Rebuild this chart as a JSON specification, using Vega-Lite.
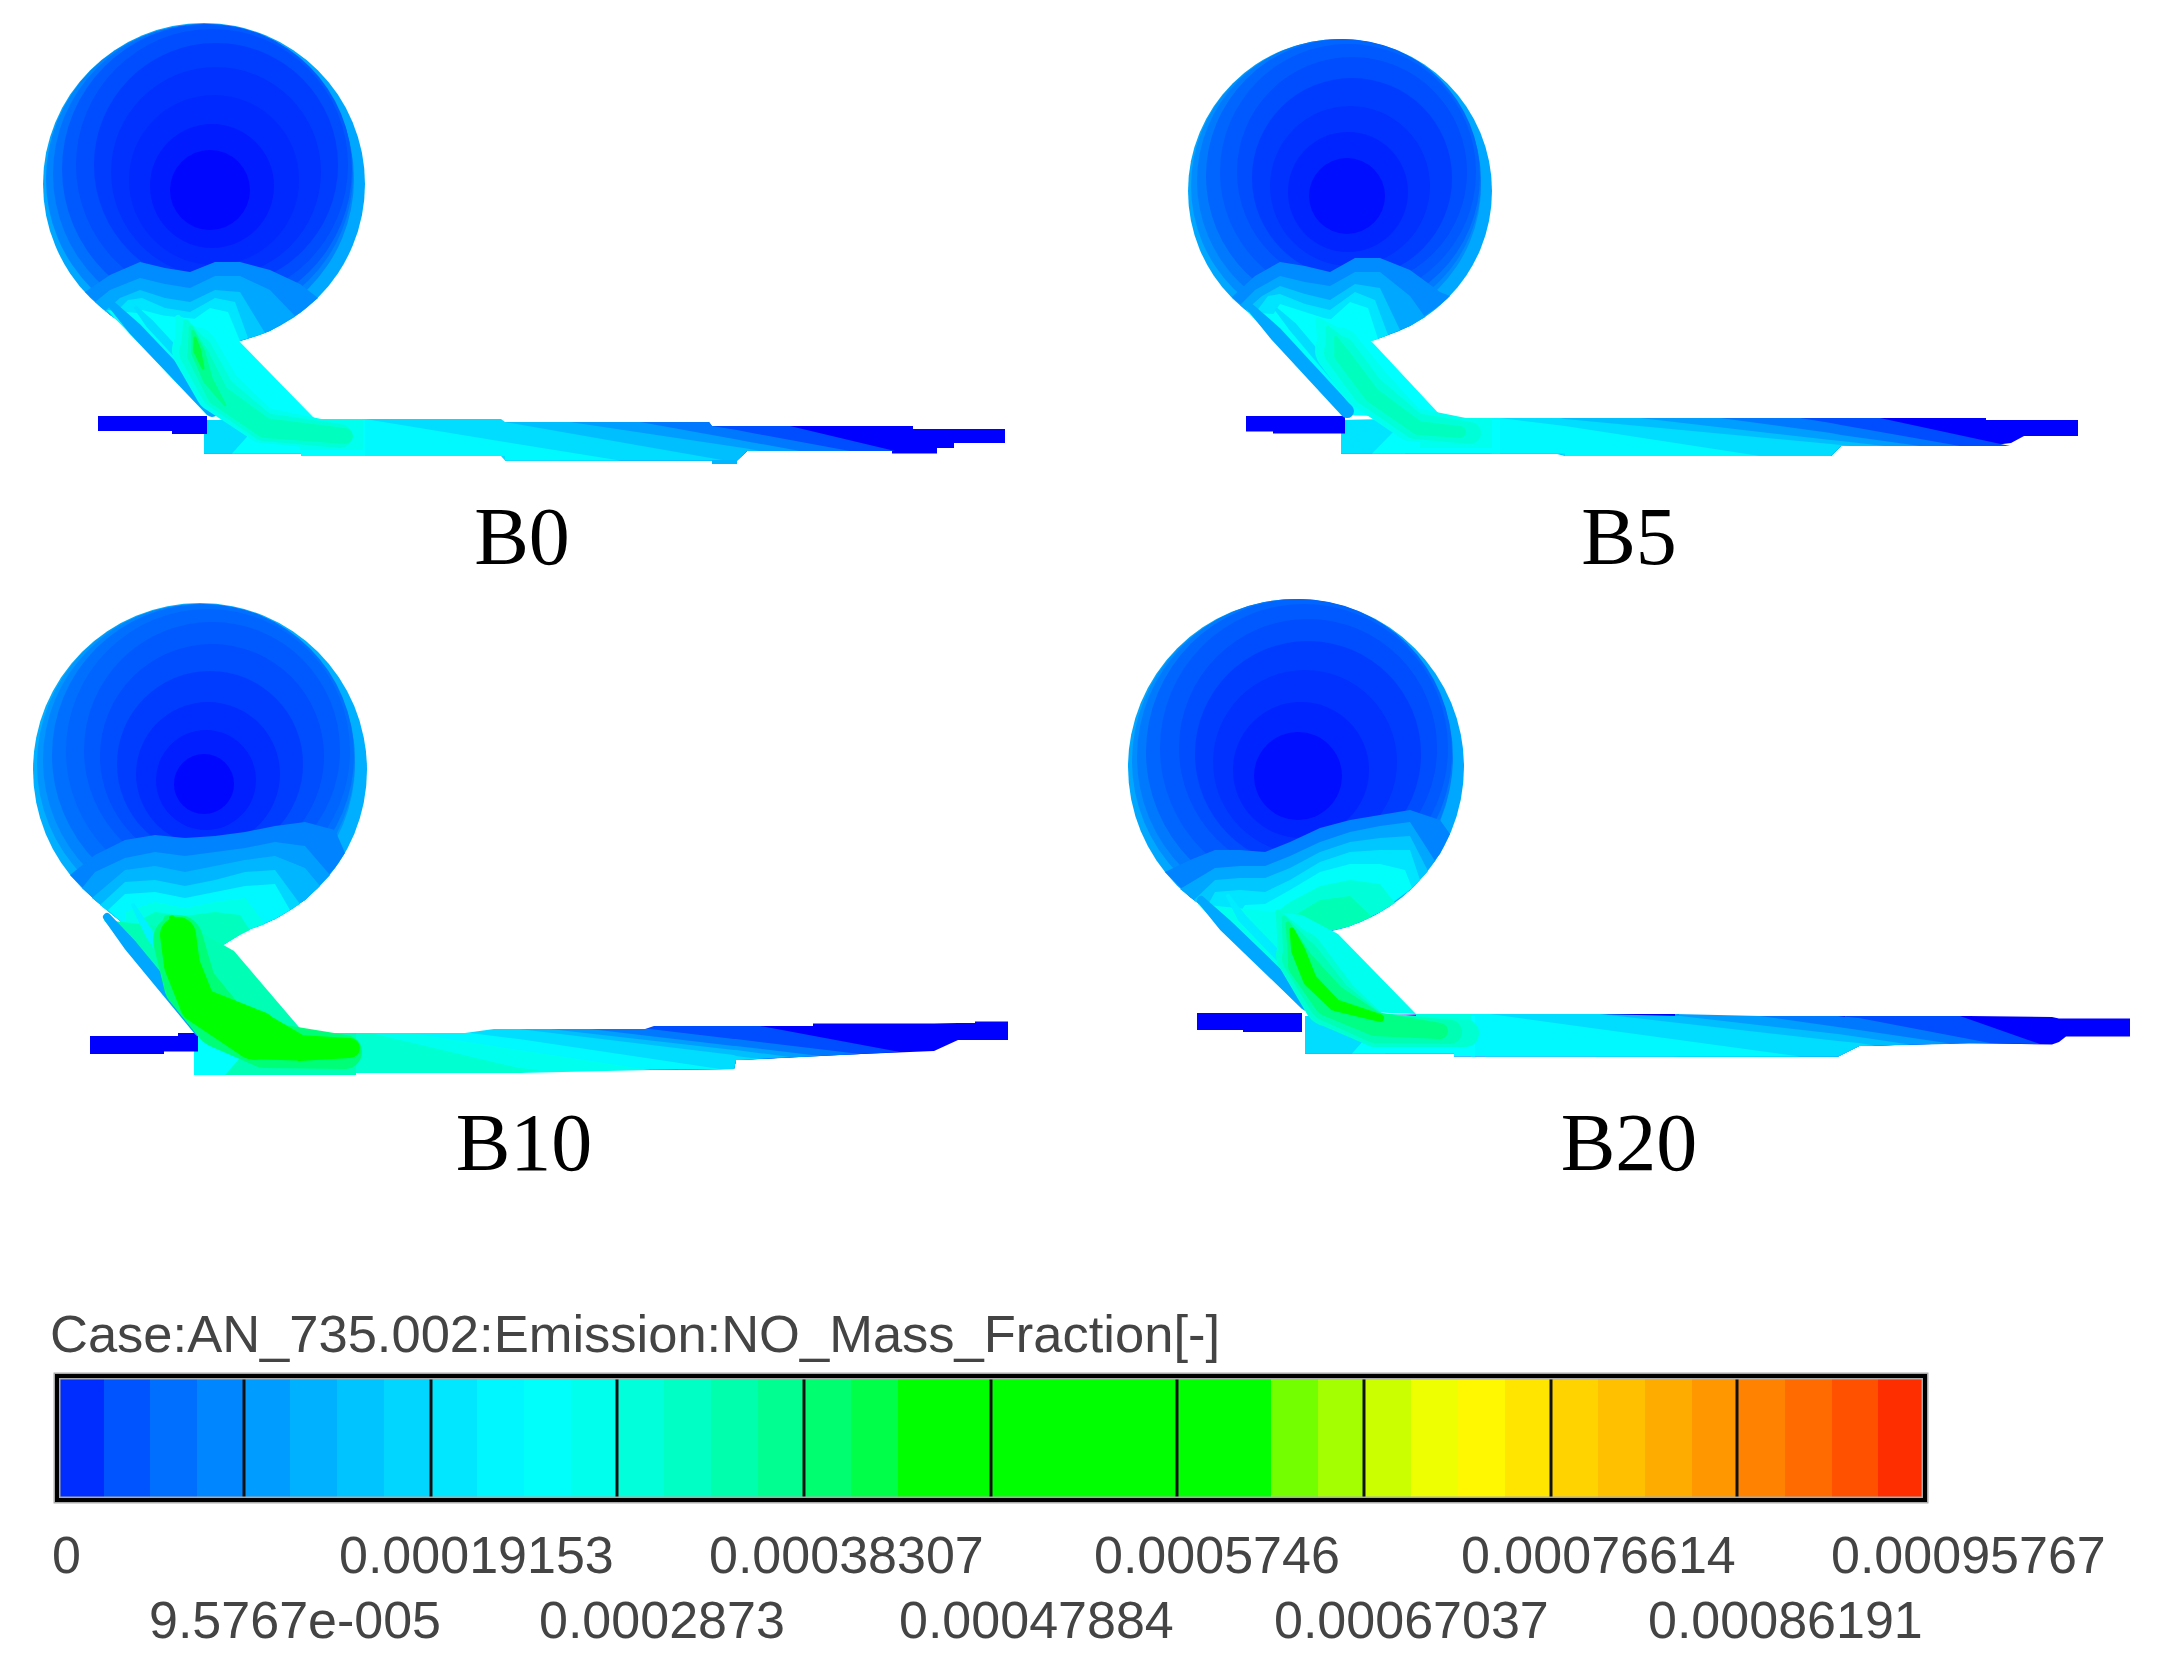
{"$schema":"https://vega.github.io/schema/vega-lite/v6.json","autosize":{"type":"fit","contains":"padding"},"padding":0,"width":2168,"height":1679,"background":"white","config":{"view":{"stroke":null}},
"datasets":{
"balls":[
{"x":204,"y":184,"d":322,"v":0.00012},{"x":200,"y":179,"d":308,"v":0.00008},{"x":203,"y":174,"d":300,"v":0.00006},{"x":207,"y":169,"d":290,"v":0.00004},{"x":212,"y":165,"d":272,"v":0.00003},{"x":216,"y":165,"d":244,"v":0.00002},{"x":216,"y":172,"d":210,"v":0.000014},{"x":214,"y":180,"d":170,"v":0.00001},{"x":212,"y":186,"d":124,"v":0.000005},{"x":210,"y":190,"d":80,"v":0.000001},
{"x":1340,"y":191,"d":304,"v":0.00012},{"x":1336,"y":186,"d":290,"v":0.00009},{"x":1339,"y":181,"d":284,"v":0.00007},{"x":1343,"y":176,"d":274,"v":0.00005},{"x":1348,"y":172,"d":256,"v":0.00004},{"x":1352,"y":172,"d":230,"v":0.00003},{"x":1352,"y":178,"d":200,"v":0.00002},{"x":1350,"y":186,"d":160,"v":0.000014},{"x":1348,"y":192,"d":120,"v":0.000008},{"x":1347,"y":196,"d":76,"v":0.000002},
{"x":200,"y":770,"d":334,"v":0.00013},{"x":196,"y":764,"d":318,"v":0.0001},{"x":199,"y":760,"d":312,"v":0.00008},{"x":203,"y":755,"d":302,"v":0.00006},{"x":208,"y":751,"d":284,"v":0.00005},{"x":212,"y":750,"d":256,"v":0.00004},{"x":212,"y":756,"d":224,"v":0.00003},{"x":210,"y":764,"d":186,"v":0.00002},{"x":208,"y":774,"d":144,"v":0.000012},{"x":206,"y":780,"d":100,"v":0.000006},{"x":204,"y":784,"d":60,"v":0.000001},
{"x":1296,"y":767,"d":336,"v":0.00012},{"x":1292,"y":761,"d":320,"v":0.00009},{"x":1295,"y":757,"d":316,"v":0.00007},{"x":1299,"y":752,"d":306,"v":0.00005},{"x":1304,"y":748,"d":288,"v":0.00004},{"x":1308,"y":748,"d":258,"v":0.00003},{"x":1308,"y":754,"d":226,"v":0.00002},{"x":1305,"y":762,"d":184,"v":0.000014},{"x":1301,"y":770,"d":136,"v":0.000008},{"x":1298,"y":776,"d":88,"v":0.000002}
],
"areas":[
{"id":"c0a","x":85,"y":292,"y2":292,"v":0.00009},{"id":"c0a","x":110,"y":275,"y2":315,"v":0.00009},{"id":"c0a","x":140,"y":262,"y2":335,"v":0.00009},{"id":"c0a","x":165,"y":268,"y2":345,"v":0.00009},{"id":"c0a","x":190,"y":272,"y2":345,"v":0.00009},{"id":"c0a","x":215,"y":262,"y2":345,"v":0.00009},{"id":"c0a","x":240,"y":262,"y2":341,"v":0.00009},{"id":"c0a","x":270,"y":270,"y2":331,"v":0.00009},{"id":"c0a","x":300,"y":284,"y2":313,"v":0.00009},{"id":"c0a","x":318,"y":298,"y2":298,"v":0.00009},
{"id":"c0b","x":95,"y":302,"y2":302,"v":0.00012},{"id":"c0b","x":110,"y":290,"y2":315,"v":0.00012},{"id":"c0b","x":140,"y":278,"y2":335,"v":0.00012},{"id":"c0b","x":165,"y":284,"y2":345,"v":0.00012},{"id":"c0b","x":190,"y":288,"y2":345,"v":0.00012},{"id":"c0b","x":215,"y":276,"y2":345,"v":0.00012},{"id":"c0b","x":240,"y":276,"y2":341,"v":0.00012},{"id":"c0b","x":270,"y":290,"y2":331,"v":0.00012},{"id":"c0b","x":295,"y":316,"y2":316,"v":0.00012},
{"id":"c0c","x":105,"y":311,"y2":311,"v":0.00016},{"id":"c0c","x":120,"y":298,"y2":322,"v":0.00016},{"id":"c0c","x":140,"y":290,"y2":335,"v":0.00016},{"id":"c0c","x":165,"y":298,"y2":345,"v":0.00016},{"id":"c0c","x":190,"y":302,"y2":345,"v":0.00016},{"id":"c0c","x":215,"y":290,"y2":345,"v":0.00016},{"id":"c0c","x":240,"y":292,"y2":341,"v":0.00016},{"id":"c0c","x":265,"y":333,"y2":333,"v":0.00016},
{"id":"c0d","x":112,"y":316,"y2":316,"v":0.0002},{"id":"c0d","x":128,"y":300,"y2":330,"v":0.0002},{"id":"c0d","x":142,"y":298,"y2":336,"v":0.0002},{"id":"c0d","x":165,"y":308,"y2":345,"v":0.0002},{"id":"c0d","x":190,"y":312,"y2":345,"v":0.0002},{"id":"c0d","x":215,"y":298,"y2":345,"v":0.0002},{"id":"c0d","x":235,"y":302,"y2":342,"v":0.0002},{"id":"c0d","x":248,"y":338,"y2":338,"v":0.0002},
{"id":"c0e","x":130,"y":330,"y2":330,"v":0.00024},{"id":"c0e","x":142,"y":310,"y2":336,"v":0.00024},{"id":"c0e","x":165,"y":316,"y2":345,"v":0.00024},{"id":"c0e","x":190,"y":322,"y2":345,"v":0.00024},{"id":"c0e","x":210,"y":308,"y2":345,"v":0.00024},{"id":"c0e","x":228,"y":312,"y2":345,"v":0.00024},{"id":"c0e","x":240,"y":341,"y2":341,"v":0.00024},

{"id":"c5a","x":1232,"y":297,"y2":297,"v":0.00009},{"id":"c5a","x":1255,"y":276,"y2":317,"v":0.00009},{"id":"c5a","x":1280,"y":262,"y2":335,"v":0.00009},{"id":"c5a","x":1305,"y":266,"y2":345,"v":0.00009},{"id":"c5a","x":1330,"y":272,"y2":345,"v":0.00009},{"id":"c5a","x":1355,"y":258,"y2":345,"v":0.00009},{"id":"c5a","x":1380,"y":258,"y2":338,"v":0.00009},{"id":"c5a","x":1410,"y":270,"y2":326,"v":0.00009},{"id":"c5a","x":1440,"y":292,"y2":305,"v":0.00009},{"id":"c5a","x":1450,"y":296,"y2":296,"v":0.00009},
{"id":"c5b","x":1240,"y":305,"y2":305,"v":0.00012},{"id":"c5b","x":1255,"y":290,"y2":317,"v":0.00012},{"id":"c5b","x":1280,"y":276,"y2":335,"v":0.00012},{"id":"c5b","x":1305,"y":282,"y2":345,"v":0.00012},{"id":"c5b","x":1330,"y":286,"y2":345,"v":0.00012},{"id":"c5b","x":1355,"y":272,"y2":345,"v":0.00012},{"id":"c5b","x":1380,"y":272,"y2":338,"v":0.00012},{"id":"c5b","x":1410,"y":296,"y2":326,"v":0.00012},{"id":"c5b","x":1425,"y":317,"y2":317,"v":0.00012},
{"id":"c5c","x":1246,"y":310,"y2":310,"v":0.00016},{"id":"c5c","x":1262,"y":296,"y2":325,"v":0.00016},{"id":"c5c","x":1280,"y":286,"y2":335,"v":0.00016},{"id":"c5c","x":1305,"y":294,"y2":345,"v":0.00016},{"id":"c5c","x":1330,"y":300,"y2":345,"v":0.00016},{"id":"c5c","x":1355,"y":284,"y2":345,"v":0.00016},{"id":"c5c","x":1380,"y":288,"y2":338,"v":0.00016},{"id":"c5c","x":1400,"y":330,"y2":330,"v":0.00016},
{"id":"c5d","x":1253,"y":316,"y2":316,"v":0.0002},{"id":"c5d","x":1268,"y":296,"y2":330,"v":0.0002},{"id":"c5d","x":1280,"y":294,"y2":335,"v":0.0002},{"id":"c5d","x":1305,"y":304,"y2":345,"v":0.0002},{"id":"c5d","x":1330,"y":310,"y2":345,"v":0.0002},{"id":"c5d","x":1355,"y":292,"y2":345,"v":0.0002},{"id":"c5d","x":1375,"y":300,"y2":340,"v":0.0002},{"id":"c5d","x":1388,"y":335,"y2":335,"v":0.0002},
{"id":"c5e","x":1265,"y":327,"y2":327,"v":0.00024},{"id":"c5e","x":1280,"y":304,"y2":335,"v":0.00024},{"id":"c5e","x":1305,"y":312,"y2":345,"v":0.00024},{"id":"c5e","x":1330,"y":320,"y2":345,"v":0.00024},{"id":"c5e","x":1350,"y":302,"y2":345,"v":0.00024},{"id":"c5e","x":1368,"y":308,"y2":342,"v":0.00024},{"id":"c5e","x":1378,"y":339,"y2":339,"v":0.00024},

{"id":"c1a","x":70,"y":875,"y2":875,"v":0.00008},{"id":"c1a","x":95,"y":855,"y2":900,"v":0.00008},{"id":"c1a","x":125,"y":840,"y2":925,"v":0.00008},{"id":"c1a","x":155,"y":835,"y2":950,"v":0.00008},{"id":"c1a","x":185,"y":838,"y2":950,"v":0.00008},{"id":"c1a","x":215,"y":836,"y2":950,"v":0.00008},{"id":"c1a","x":245,"y":832,"y2":931,"v":0.00008},{"id":"c1a","x":275,"y":826,"y2":919,"v":0.00008},{"id":"c1a","x":305,"y":822,"y2":900,"v":0.00008},{"id":"c1a","x":335,"y":830,"y2":868,"v":0.00008},{"id":"c1a","x":345,"y":853,"y2":853,"v":0.00008},
{"id":"c1b","x":82,"y":888,"y2":888,"v":0.00011},{"id":"c1b","x":95,"y":872,"y2":900,"v":0.00011},{"id":"c1b","x":125,"y":858,"y2":925,"v":0.00011},{"id":"c1b","x":155,"y":852,"y2":950,"v":0.00011},{"id":"c1b","x":185,"y":856,"y2":950,"v":0.00011},{"id":"c1b","x":215,"y":852,"y2":950,"v":0.00011},{"id":"c1b","x":245,"y":848,"y2":931,"v":0.00011},{"id":"c1b","x":275,"y":842,"y2":919,"v":0.00011},{"id":"c1b","x":305,"y":846,"y2":900,"v":0.00011},{"id":"c1b","x":330,"y":875,"y2":875,"v":0.00011},
{"id":"c1c","x":92,"y":898,"y2":898,"v":0.00014},{"id":"c1c","x":125,"y":870,"y2":925,"v":0.00014},{"id":"c1c","x":155,"y":866,"y2":950,"v":0.00014},{"id":"c1c","x":185,"y":872,"y2":950,"v":0.00014},{"id":"c1c","x":215,"y":866,"y2":950,"v":0.00014},{"id":"c1c","x":245,"y":860,"y2":931,"v":0.00014},{"id":"c1c","x":275,"y":856,"y2":919,"v":0.00014},{"id":"c1c","x":305,"y":868,"y2":900,"v":0.00014},{"id":"c1c","x":320,"y":886,"y2":886,"v":0.00014},
{"id":"c1d","x":100,"y":905,"y2":905,"v":0.00018},{"id":"c1d","x":125,"y":882,"y2":925,"v":0.00018},{"id":"c1d","x":155,"y":880,"y2":950,"v":0.00018},{"id":"c1d","x":185,"y":886,"y2":950,"v":0.00018},{"id":"c1d","x":215,"y":880,"y2":950,"v":0.00018},{"id":"c1d","x":245,"y":872,"y2":931,"v":0.00018},{"id":"c1d","x":275,"y":870,"y2":919,"v":0.00018},{"id":"c1d","x":300,"y":904,"y2":904,"v":0.00018},
{"id":"c1e","x":108,"y":910,"y2":910,"v":0.00023},{"id":"c1e","x":125,"y":894,"y2":925,"v":0.00023},{"id":"c1e","x":155,"y":892,"y2":950,"v":0.00023},{"id":"c1e","x":185,"y":898,"y2":950,"v":0.00023},{"id":"c1e","x":215,"y":892,"y2":950,"v":0.00023},{"id":"c1e","x":245,"y":886,"y2":931,"v":0.00023},{"id":"c1e","x":275,"y":884,"y2":919,"v":0.00023},{"id":"c1e","x":290,"y":910,"y2":910,"v":0.00023},
{"id":"c1f","x":125,"y":912,"y2":925,"v":0.00028},{"id":"c1f","x":155,"y":902,"y2":950,"v":0.00028},{"id":"c1f","x":185,"y":908,"y2":950,"v":0.00028},{"id":"c1f","x":215,"y":902,"y2":950,"v":0.00028},{"id":"c1f","x":245,"y":898,"y2":931,"v":0.00028},{"id":"c1f","x":265,"y":924,"y2":924,"v":0.00028},
{"id":"c1g","x":140,"y":920,"y2":940,"v":0.00033},{"id":"c1g","x":155,"y":912,"y2":950,"v":0.00033},{"id":"c1g","x":185,"y":916,"y2":950,"v":0.00033},{"id":"c1g","x":215,"y":912,"y2":950,"v":0.00033},{"id":"c1g","x":240,"y":915,"y2":935,"v":0.00033},{"id":"c1g","x":250,"y":930,"y2":930,"v":0.00033},

{"id":"c2a","x":1165,"y":872,"y2":872,"v":0.00008},{"id":"c2a","x":1190,"y":860,"y2":897,"v":0.00008},{"id":"c2a","x":1215,"y":850,"y2":916,"v":0.00008},{"id":"c2a","x":1240,"y":850,"y2":930,"v":0.00008},{"id":"c2a","x":1265,"y":852,"y2":945,"v":0.00008},{"id":"c2a","x":1290,"y":842,"y2":945,"v":0.00008},{"id":"c2a","x":1320,"y":828,"y2":933,"v":0.00008},{"id":"c2a","x":1350,"y":820,"y2":926,"v":0.00008},{"id":"c2a","x":1380,"y":815,"y2":912,"v":0.00008},{"id":"c2a","x":1410,"y":810,"y2":890,"v":0.00008},{"id":"c2a","x":1440,"y":820,"y2":854,"v":0.00008},{"id":"c2a","x":1450,"y":834,"y2":834,"v":0.00008},
{"id":"c2b","x":1180,"y":889,"y2":889,"v":0.00012},{"id":"c2b","x":1215,"y":868,"y2":916,"v":0.00012},{"id":"c2b","x":1240,"y":866,"y2":930,"v":0.00012},{"id":"c2b","x":1265,"y":866,"y2":945,"v":0.00012},{"id":"c2b","x":1290,"y":856,"y2":945,"v":0.00012},{"id":"c2b","x":1320,"y":842,"y2":933,"v":0.00012},{"id":"c2b","x":1350,"y":832,"y2":926,"v":0.00012},{"id":"c2b","x":1380,"y":826,"y2":912,"v":0.00012},{"id":"c2b","x":1410,"y":822,"y2":890,"v":0.00012},{"id":"c2b","x":1435,"y":861,"y2":861,"v":0.00012},
{"id":"c2c","x":1194,"y":900,"y2":900,"v":0.00016},{"id":"c2c","x":1215,"y":880,"y2":916,"v":0.00016},{"id":"c2c","x":1240,"y":878,"y2":930,"v":0.00016},{"id":"c2c","x":1265,"y":878,"y2":945,"v":0.00016},{"id":"c2c","x":1290,"y":868,"y2":945,"v":0.00016},{"id":"c2c","x":1320,"y":852,"y2":933,"v":0.00016},{"id":"c2c","x":1350,"y":842,"y2":926,"v":0.00016},{"id":"c2c","x":1380,"y":838,"y2":912,"v":0.00016},{"id":"c2c","x":1410,"y":836,"y2":890,"v":0.00016},{"id":"c2c","x":1428,"y":871,"y2":871,"v":0.00016},
{"id":"c2d","x":1205,"y":910,"y2":910,"v":0.0002},{"id":"c2d","x":1215,"y":892,"y2":916,"v":0.0002},{"id":"c2d","x":1240,"y":890,"y2":930,"v":0.0002},{"id":"c2d","x":1265,"y":892,"y2":945,"v":0.0002},{"id":"c2d","x":1290,"y":880,"y2":945,"v":0.0002},{"id":"c2d","x":1320,"y":862,"y2":933,"v":0.0002},{"id":"c2d","x":1350,"y":852,"y2":926,"v":0.0002},{"id":"c2d","x":1380,"y":850,"y2":912,"v":0.0002},{"id":"c2d","x":1410,"y":850,"y2":890,"v":0.0002},{"id":"c2d","x":1420,"y":880,"y2":880,"v":0.0002},
{"id":"c2e","x":1232,"y":925,"y2":925,"v":0.00025},{"id":"c2e","x":1245,"y":905,"y2":932,"v":0.00025},{"id":"c2e","x":1265,"y":904,"y2":945,"v":0.00025},{"id":"c2e","x":1290,"y":890,"y2":945,"v":0.00025},{"id":"c2e","x":1320,"y":872,"y2":933,"v":0.00025},{"id":"c2e","x":1350,"y":864,"y2":926,"v":0.00025},{"id":"c2e","x":1380,"y":864,"y2":912,"v":0.00025},{"id":"c2e","x":1405,"y":870,"y2":893,"v":0.00025},{"id":"c2e","x":1412,"y":888,"y2":888,"v":0.00025},
{"id":"c2f","x":1265,"y":920,"y2":945,"v":0.0003},{"id":"c2f","x":1290,"y":902,"y2":945,"v":0.0003},{"id":"c2f","x":1320,"y":886,"y2":933,"v":0.0003},{"id":"c2f","x":1350,"y":880,"y2":926,"v":0.0003},{"id":"c2f","x":1380,"y":884,"y2":912,"v":0.0003},{"id":"c2f","x":1395,"y":903,"y2":903,"v":0.0003},
{"id":"c2g","x":1290,"y":918,"y2":945,"v":0.00034},{"id":"c2g","x":1320,"y":900,"y2":933,"v":0.00034},{"id":"c2g","x":1350,"y":896,"y2":926,"v":0.00034},{"id":"c2g","x":1372,"y":917,"y2":917,"v":0.00034},

{"id":"b0s","x":204,"y":420,"y2":453.5,"v":0},{"id":"b0s","x":301,"y":420,"y2":453.5,"v":0},{"id":"b0s","x":301,"y":420,"y2":456,"v":0},{"id":"b0s","x":315,"y":419,"y2":456,"v":0},{"id":"b0s","x":501,"y":419,"y2":456,"v":0},{"id":"b0s","x":501,"y":422,"y2":456,"v":0},{"id":"b0s","x":505,"y":422,"y2":456,"v":0},{"id":"b0s","x":505,"y":422,"y2":460.5,"v":0},{"id":"b0s","x":709,"y":422,"y2":460.5,"v":0},{"id":"b0s","x":709,"y":426,"y2":460.5,"v":0},{"id":"b0s","x":737,"y":426,"y2":460.5,"v":0},{"id":"b0s","x":747,"y":426,"y2":451,"v":0},{"id":"b0s","x":892,"y":426,"y2":451,"v":0},{"id":"b0s","x":892,"y":426,"y2":453.5,"v":0},{"id":"b0s","x":913,"y":426,"y2":453.5,"v":0},{"id":"b0s","x":913,"y":429,"y2":453.5,"v":0},{"id":"b0s","x":937,"y":429,"y2":453.5,"v":0},{"id":"b0s","x":937,"y":429,"y2":448,"v":0},{"id":"b0s","x":954,"y":429,"y2":448,"v":0},{"id":"b0s","x":954,"y":429,"y2":443,"v":0},{"id":"b0s","x":1005,"y":429,"y2":443,"v":0},
{"id":"b0a","x":680,"y":422,"y2":460.5,"v":0.00003},{"id":"b0a","x":709,"y":422,"y2":460.5,"v":0.00003},{"id":"b0a","x":712,"y":426,"y2":460.5,"v":0.00003},{"id":"b0a","x":737,"y":426,"y2":460.5,"v":0.00003},{"id":"b0a","x":747,"y":426,"y2":451,"v":0.00003},{"id":"b0a","x":790,"y":426,"y2":451,"v":0.00003},{"id":"b0a","x":895,"y":451,"y2":451,"v":0.00003},
{"id":"b0b","x":620,"y":422,"y2":460.5,"v":0.00007},{"id":"b0b","x":709,"y":422,"y2":460.5,"v":0.00007},{"id":"b0b","x":712,"y":426,"y2":460.5,"v":0.00007},{"id":"b0b","x":737,"y":430,"y2":460.5,"v":0.00007},{"id":"b0b","x":747,"y":432,"y2":451,"v":0.00007},{"id":"b0b","x":850,"y":451,"y2":451,"v":0.00007},
{"id":"b0c","x":560,"y":422,"y2":460.5,"v":0.00011},{"id":"b0c","x":640,"y":422,"y2":460.5,"v":0.00011},{"id":"b0c","x":737,"y":439.6,"y2":460.5,"v":0.00011},{"id":"b0c","x":747,"y":441.4,"y2":451,"v":0.00011},{"id":"b0c","x":800,"y":451,"y2":451,"v":0.00011},
{"id":"b0d","x":505,"y":422,"y2":460.5,"v":0.00015},{"id":"b0d","x":570,"y":422,"y2":460.5,"v":0.00015},{"id":"b0d","x":737,"y":447,"y2":460.5,"v":0.00015},{"id":"b0d","x":747,"y":448.6,"y2":451,"v":0.00015},{"id":"b0d","x":760,"y":451,"y2":451,"v":0.00015},
{"id":"b0e","x":360,"y":419,"y2":456,"v":0.00019},{"id":"b0e","x":501,"y":419,"y2":456,"v":0.00019},{"id":"b0e","x":505,"y":422,"y2":460.5,"v":0.00019},{"id":"b0e","x":725,"y":460.5,"y2":460.5,"v":0.00019},
{"id":"b0f","x":330,"y":419,"y2":456,"v":0.00023},{"id":"b0f","x":365,"y":419,"y2":456,"v":0.00023},{"id":"b0f","x":505,"y":442,"y2":456,"v":0.00023},{"id":"b0f","x":505,"y":442,"y2":460.5,"v":0.00023},{"id":"b0f","x":620,"y":460.5,"y2":460.5,"v":0.00023},
{"id":"b0p","x":204,"y":420,"y2":453.5,"v":0.00019},{"id":"b0p","x":301,"y":420,"y2":453.5,"v":0.00019},{"id":"b0p","x":301,"y":420,"y2":456,"v":0.00019},{"id":"b0p","x":320,"y":420,"y2":456,"v":0.00019},
{"id":"b0q","x":232,"y":453.5,"y2":453.5,"v":0.00024},{"id":"b0q","x":262,"y":420,"y2":453.5,"v":0.00024},{"id":"b0q","x":301,"y":420,"y2":453.5,"v":0.00024},{"id":"b0q","x":301,"y":420,"y2":456,"v":0.00024},{"id":"b0q","x":365,"y":420,"y2":456,"v":0.00024},
{"id":"b0m","x":300,"y":419,"y2":450,"v":0.00027},{"id":"b0m","x":363,"y":419,"y2":450,"v":0.00027},
{"id":"b0u","x":712,"y":460,"y2":464,"v":0.00014},{"id":"b0u","x":737,"y":460,"y2":464,"v":0.00014},
{"id":"b0i","x":98,"y":416,"y2":431,"v":0},{"id":"b0i","x":172,"y":416,"y2":431,"v":0},{"id":"b0i","x":172,"y":416,"y2":434,"v":0},{"id":"b0i","x":207,"y":416,"y2":434,"v":0},
{"id":"b0n","x":107,"y":310,"y2":310,"v":0.00024},{"id":"b0n","x":207,"y":320,"y2":415,"v":0.00024},{"id":"b0n","x":239,"y":341,"y2":416,"v":0.00024},{"id":"b0n","x":315,"y":419,"y2":419,"v":0.00024},

{"id":"b5s","x":1341,"y":420,"y2":453.5,"v":0},{"id":"b5s","x":1565,"y":418,"y2":453.5,"v":0},{"id":"b5s","x":1565,"y":418,"y2":456,"v":0},{"id":"b5s","x":1831,"y":418,"y2":456,"v":0},{"id":"b5s","x":1841,"y":418,"y2":446,"v":0},{"id":"b5s","x":1986,"y":418,"y2":446,"v":0},{"id":"b5s","x":1986,"y":420,"y2":446,"v":0},{"id":"b5s","x":2011,"y":420,"y2":443,"v":0},{"id":"b5s","x":2024,"y":420,"y2":436,"v":0},{"id":"b5s","x":2078,"y":420,"y2":436,"v":0},
{"id":"b5a","x":1795,"y":418,"y2":456,"v":0.00003},{"id":"b5a","x":1831,"y":418,"y2":456,"v":0.00003},{"id":"b5a","x":1841,"y":418,"y2":446,"v":0.00003},{"id":"b5a","x":1880,"y":418,"y2":446,"v":0.00003},{"id":"b5a","x":2010,"y":446,"y2":446,"v":0.00003},
{"id":"b5b","x":1710,"y":418,"y2":456,"v":0.00007},{"id":"b5b","x":1800,"y":418,"y2":456,"v":0.00007},{"id":"b5b","x":1831,"y":423,"y2":456,"v":0.00007},{"id":"b5b","x":1841,"y":425,"y2":446,"v":0.00007},{"id":"b5b","x":1960,"y":446,"y2":446,"v":0.00007},
{"id":"b5c","x":1630,"y":418,"y2":456,"v":0.00011},{"id":"b5c","x":1720,"y":418,"y2":456,"v":0.00011},{"id":"b5c","x":1831,"y":433,"y2":456,"v":0.00011},{"id":"b5c","x":1841,"y":435,"y2":446,"v":0.00011},{"id":"b5c","x":1920,"y":446,"y2":446,"v":0.00011},
{"id":"b5d","x":1555,"y":418,"y2":453.5,"v":0.00015},{"id":"b5d","x":1565,"y":418,"y2":456,"v":0.00015},{"id":"b5d","x":1640,"y":418,"y2":456,"v":0.00015},{"id":"b5d","x":1831,"y":440,"y2":456,"v":0.00015},{"id":"b5d","x":1841,"y":441,"y2":446,"v":0.00015},{"id":"b5d","x":1885,"y":446,"y2":446,"v":0.00015},
{"id":"b5e","x":1490,"y":418,"y2":453.5,"v":0.00019},{"id":"b5e","x":1560,"y":418,"y2":453.5,"v":0.00019},{"id":"b5e","x":1565,"y":419,"y2":456,"v":0.00019},{"id":"b5e","x":1831,"y":444,"y2":456,"v":0.00019},{"id":"b5e","x":1841,"y":445,"y2":446,"v":0.00019},{"id":"b5e","x":1850,"y":446,"y2":446,"v":0.00019},
{"id":"b5f","x":1492,"y":418,"y2":453.5,"v":0.00023},{"id":"b5f","x":1500,"y":418,"y2":453.5,"v":0.00023},{"id":"b5f","x":1565,"y":426,"y2":453.5,"v":0.00023},{"id":"b5f","x":1565,"y":426,"y2":456,"v":0.00023},{"id":"b5f","x":1760,"y":456,"y2":456,"v":0.00023},
{"id":"b5p","x":1341,"y":420,"y2":453.5,"v":0.0002},{"id":"b5p","x":1405,"y":420,"y2":453.5,"v":0.0002},
{"id":"b5q","x":1372,"y":453.5,"y2":453.5,"v":0.00024},{"id":"b5q","x":1405,"y":420,"y2":453.5,"v":0.00024},{"id":"b5q","x":1500,"y":420,"y2":453.5,"v":0.00024},
{"id":"b5m","x":1420,"y":418,"y2":448,"v":0.00027},{"id":"b5m","x":1492,"y":418,"y2":448,"v":0.00027},
{"id":"b5i","x":1246,"y":416,"y2":431.5,"v":0},{"id":"b5i","x":1273,"y":416,"y2":431.5,"v":0},{"id":"b5i","x":1273,"y":416,"y2":433.5,"v":0},{"id":"b5i","x":1345,"y":416,"y2":433.5,"v":0},
{"id":"b5n","x":1248,"y":312,"y2":312,"v":0.00024},{"id":"b5n","x":1343,"y":320,"y2":415,"v":0.00024},{"id":"b5n","x":1373,"y":343,"y2":416,"v":0.00024},{"id":"b5n","x":1442,"y":417,"y2":417,"v":0.00024},

{"id":"b1s","x":194,"y":1035,"y2":1075,"v":0},{"id":"b1s","x":304,"y":1033,"y2":1075,"v":0},{"id":"b1s","x":356,"y":1033,"y2":1075,"v":0},{"id":"b1s","x":356,"y":1033,"y2":1073,"v":0},{"id":"b1s","x":494,"y":1033,"y2":1073,"v":0},{"id":"b1s","x":494,"y":1029,"y2":1073,"v":0},{"id":"b1s","x":519,"y":1029,"y2":1073,"v":0},{"id":"b1s","x":519,"y":1029,"y2":1070,"v":0},{"id":"b1s","x":654,"y":1029,"y2":1070,"v":0},{"id":"b1s","x":654,"y":1026,"y2":1070,"v":0},{"id":"b1s","x":678,"y":1026,"y2":1070,"v":0},{"id":"b1s","x":678,"y":1026,"y2":1069,"v":0},{"id":"b1s","x":734,"y":1026,"y2":1069,"v":0},{"id":"b1s","x":736,"y":1026,"y2":1060,"v":0},{"id":"b1s","x":813,"y":1026,"y2":1056,"v":0},{"id":"b1s","x":813,"y":1023.5,"y2":1056,"v":0},{"id":"b1s","x":934,"y":1023.5,"y2":1051,"v":0},{"id":"b1s","x":958,"y":1023,"y2":1040,"v":0},{"id":"b1s","x":975,"y":1023,"y2":1040,"v":0},{"id":"b1s","x":975,"y":1021.5,"y2":1040,"v":0},{"id":"b1s","x":1008,"y":1021.5,"y2":1040,"v":0},
{"id":"b1a","x":645,"y":1029,"y2":1070,"v":0.00003},{"id":"b1a","x":654,"y":1026,"y2":1070,"v":0.00003},{"id":"b1a","x":734,"y":1026,"y2":1069,"v":0.00003},{"id":"b1a","x":736,"y":1026,"y2":1060,"v":0.00003},{"id":"b1a","x":760,"y":1026,"y2":1059,"v":0.00003},{"id":"b1a","x":900,"y":1052,"y2":1052,"v":0.00003},
{"id":"b1b","x":585,"y":1029,"y2":1070,"v":0.00007},{"id":"b1b","x":650,"y":1029,"y2":1070,"v":0.00007},{"id":"b1b","x":734,"y":1039,"y2":1069,"v":0.00007},{"id":"b1b","x":736,"y":1039,"y2":1060,"v":0.00007},{"id":"b1b","x":860,"y":1054,"y2":1054,"v":0.00007},
{"id":"b1c","x":545,"y":1029,"y2":1070,"v":0.00011},{"id":"b1c","x":590,"y":1029,"y2":1070,"v":0.00011},{"id":"b1c","x":734,"y":1046,"y2":1069,"v":0.00011},{"id":"b1c","x":736,"y":1046,"y2":1060,"v":0.00011},{"id":"b1c","x":820,"y":1056,"y2":1056,"v":0.00011},
{"id":"b1d","x":510,"y":1029,"y2":1073,"v":0.00015},{"id":"b1d","x":519,"y":1029,"y2":1070,"v":0.00015},{"id":"b1d","x":550,"y":1029,"y2":1070,"v":0.00015},{"id":"b1d","x":734,"y":1050,"y2":1069,"v":0.00015},{"id":"b1d","x":736,"y":1050,"y2":1060,"v":0.00015},{"id":"b1d","x":790,"y":1057,"y2":1057,"v":0.00015},
{"id":"b1e","x":465,"y":1033,"y2":1073,"v":0.00019},{"id":"b1e","x":494,"y":1029,"y2":1073,"v":0.00019},{"id":"b1e","x":519,"y":1029,"y2":1070,"v":0.00019},{"id":"b1e","x":734,"y":1055,"y2":1069,"v":0.00019},{"id":"b1e","x":736,"y":1056,"y2":1060,"v":0.00019},{"id":"b1e","x":760,"y":1059,"y2":1059,"v":0.00019},
{"id":"b1f","x":400,"y":1033,"y2":1073,"v":0.00023},{"id":"b1f","x":470,"y":1033,"y2":1073,"v":0.00023},{"id":"b1f","x":519,"y":1039,"y2":1070,"v":0.00023},{"id":"b1f","x":720,"y":1069,"y2":1069,"v":0.00023},
{"id":"b1g","x":365,"y":1033,"y2":1073,"v":0.00027},{"id":"b1g","x":410,"y":1033,"y2":1073,"v":0.00027},{"id":"b1g","x":519,"y":1050,"y2":1073,"v":0.00027},{"id":"b1g","x":650,"y":1070,"y2":1070,"v":0.00027},
{"id":"b1h","x":356,"y":1033,"y2":1073,"v":0.00031},{"id":"b1h","x":370,"y":1033,"y2":1073,"v":0.00031},{"id":"b1h","x":519,"y":1068,"y2":1073,"v":0.00031},{"id":"b1h","x":540,"y":1070,"y2":1070,"v":0.00031},
{"id":"b1p","x":194,"y":1035,"y2":1075,"v":0.00024},{"id":"b1p","x":262,"y":1035,"y2":1075,"v":0.00024},
{"id":"b1m","x":225,"y":1075,"y2":1075,"v":0.00034},{"id":"b1m","x":262,"y":1033,"y2":1075,"v":0.00034},{"id":"b1m","x":356,"y":1033,"y2":1075,"v":0.00034},
{"id":"b1i","x":90,"y":1036,"y2":1054,"v":0},{"id":"b1i","x":164,"y":1036,"y2":1054,"v":0},{"id":"b1i","x":164,"y":1036,"y2":1051.5,"v":0},{"id":"b1i","x":178,"y":1036,"y2":1051.5,"v":0},{"id":"b1i","x":178,"y":1033,"y2":1051.5,"v":0},{"id":"b1i","x":198,"y":1033,"y2":1051.5,"v":0},
{"id":"b1n","x":104,"y":920,"y2":920,"v":0.00034},{"id":"b1n","x":197,"y":930,"y2":1033,"v":0.00034},{"id":"b1n","x":234,"y":951,"y2":1033,"v":0.00034},{"id":"b1n","x":304,"y":1033,"y2":1033,"v":0.00034},

{"id":"b2s","x":1305,"y":1016,"y2":1053.5,"v":0},{"id":"b2s","x":1454,"y":1014,"y2":1053.5,"v":0},{"id":"b2s","x":1454,"y":1014,"y2":1056.5,"v":0},{"id":"b2s","x":1679,"y":1014,"y2":1056.5,"v":0},{"id":"b2s","x":1679,"y":1016,"y2":1056.5,"v":0},{"id":"b2s","x":1838,"y":1016,"y2":1056.5,"v":0},{"id":"b2s","x":1859,"y":1016,"y2":1046,"v":0},{"id":"b2s","x":1969,"y":1016,"y2":1043,"v":0},{"id":"b2s","x":2052,"y":1017,"y2":1044.5,"v":0},{"id":"b2s","x":2059,"y":1018.5,"y2":1042,"v":0},{"id":"b2s","x":2066,"y":1018.5,"y2":1036.5,"v":0},{"id":"b2s","x":2130,"y":1018.5,"y2":1036.5,"v":0},
{"id":"b2a","x":1845,"y":1016,"y2":1052,"v":0.00003},{"id":"b2a","x":1859,"y":1016,"y2":1046,"v":0.00003},{"id":"b2a","x":1960,"y":1016,"y2":1043,"v":0.00003},{"id":"b2a","x":2040,"y":1044,"y2":1044,"v":0.00003},
{"id":"b2b","x":1755,"y":1016,"y2":1056.5,"v":0.00007},{"id":"b2b","x":1838,"y":1016,"y2":1056.5,"v":0.00007},{"id":"b2b","x":1859,"y":1018,"y2":1046,"v":0.00007},{"id":"b2b","x":1990,"y":1043,"y2":1043,"v":0.00007},
{"id":"b2c","x":1675,"y":1014,"y2":1056.5,"v":0.00011},{"id":"b2c","x":1760,"y":1016,"y2":1056.5,"v":0.00011},{"id":"b2c","x":1838,"y":1027,"y2":1056.5,"v":0.00011},{"id":"b2c","x":1859,"y":1030,"y2":1046,"v":0.00011},{"id":"b2c","x":1950,"y":1043.5,"y2":1043.5,"v":0.00011},
{"id":"b2d","x":1595,"y":1014,"y2":1056.5,"v":0.00015},{"id":"b2d","x":1680,"y":1016,"y2":1056.5,"v":0.00015},{"id":"b2d","x":1838,"y":1034,"y2":1056.5,"v":0.00015},{"id":"b2d","x":1859,"y":1037,"y2":1046,"v":0.00015},{"id":"b2d","x":1910,"y":1044.5,"y2":1044.5,"v":0.00015},
{"id":"b2e","x":1485,"y":1014,"y2":1056.5,"v":0.00019},{"id":"b2e","x":1600,"y":1014,"y2":1056.5,"v":0.00019},{"id":"b2e","x":1838,"y":1041,"y2":1056.5,"v":0.00019},{"id":"b2e","x":1859,"y":1043,"y2":1046,"v":0.00019},{"id":"b2e","x":1875,"y":1045.5,"y2":1045.5,"v":0.00019},
{"id":"b2f","x":1471,"y":1014,"y2":1056.5,"v":0.00023},{"id":"b2f","x":1490,"y":1014,"y2":1056.5,"v":0.00023},{"id":"b2f","x":1800,"y":1056.5,"y2":1056.5,"v":0.00023},
{"id":"b2p","x":1305,"y":1016,"y2":1053.5,"v":0.00019},{"id":"b2p","x":1385,"y":1016,"y2":1053.5,"v":0.00019},
{"id":"b2q","x":1352,"y":1053.5,"y2":1053.5,"v":0.00024},{"id":"b2q","x":1385,"y":1016,"y2":1053.5,"v":0.00024},{"id":"b2q","x":1454,"y":1016,"y2":1053.5,"v":0.00024},{"id":"b2q","x":1454,"y":1016,"y2":1056.5,"v":0.00024},{"id":"b2q","x":1475,"y":1016,"y2":1056.5,"v":0.00024},
{"id":"b2m","x":1416,"y":1014,"y2":1046,"v":0.00029},{"id":"b2m","x":1471,"y":1014,"y2":1046,"v":0.00029},
{"id":"b2i","x":1197,"y":1013,"y2":1030,"v":0},{"id":"b2i","x":1243,"y":1013,"y2":1030,"v":0},{"id":"b2i","x":1243,"y":1013,"y2":1032,"v":0},{"id":"b2i","x":1302,"y":1013,"y2":1032,"v":0},
{"id":"b2n","x":1198,"y":904,"y2":904,"v":0.00027},{"id":"b2n","x":1302,"y":915,"y2":1009,"v":0.00027},{"id":"b2n","x":1338,"y":934,"y2":1011,"v":0.00027},{"id":"b2n","x":1416,"y":1014,"y2":1014,"v":0.00027}
],
"trails":[
{"id":"t0a","x":112,"y":305,"w":8,"v":0.00012},{"id":"t0a","x":135,"y":329,"w":14,"v":0.00012},{"id":"t0a","x":212,"y":410,"w":14,"v":0.00012},
{"id":"t0b","x":136,"y":308,"w":4,"v":0.00019},{"id":"t0b","x":150,"y":324,"w":9,"v":0.00019},{"id":"t0b","x":221,"y":401,"w":9,"v":0.00019},
{"id":"t0c","x":178,"y":318,"w":6,"v":0.00027},{"id":"t0c","x":195,"y":350,"w":46,"v":0.00027},{"id":"t0c","x":218,"y":390,"w":46,"v":0.00027},{"id":"t0c","x":262,"y":425,"w":36,"v":0.00027},{"id":"t0c","x":335,"y":436,"w":28,"v":0.00027},
{"id":"t0c2","x":186,"y":322,"w":6,"v":0.0003},{"id":"t0c2","x":196,"y":352,"w":34,"v":0.0003},{"id":"t0c2","x":218,"y":392,"w":34,"v":0.0003},{"id":"t0c2","x":264,"y":427,"w":28,"v":0.0003},{"id":"t0c2","x":340,"y":436,"w":24,"v":0.0003},
{"id":"t0d","x":191,"y":328,"w":5,"v":0.00033},{"id":"t0d","x":198,"y":355,"w":22,"v":0.00033},{"id":"t0d","x":218,"y":395,"w":22,"v":0.00033},{"id":"t0d","x":265,"y":428,"w":20,"v":0.00033},{"id":"t0d","x":345,"y":436,"w":16,"v":0.00033},
{"id":"t0e","x":193,"y":332,"w":4,"v":0.00037},{"id":"t0e","x":198,"y":352,"w":14,"v":0.00037},{"id":"t0e","x":208,"y":380,"w":10,"v":0.00037},{"id":"t0e","x":225,"y":405,"w":3,"v":0.00037},
{"id":"t0f","x":195,"y":338,"w":3,"v":0.00042},{"id":"t0f","x":197,"y":350,"w":8,"v":0.00042},{"id":"t0f","x":203,"y":368,"w":3,"v":0.00042},

{"id":"t5a","x":1251,"y":308,"w":8,"v":0.00012},{"id":"t5a","x":1275,"y":333,"w":14,"v":0.00012},{"id":"t5a","x":1347,"y":411,"w":14,"v":0.00012},
{"id":"t5b","x":1277,"y":310,"w":4,"v":0.00019},{"id":"t5b","x":1292,"y":326,"w":9,"v":0.00019},{"id":"t5b","x":1356,"y":402,"w":9,"v":0.00019},
{"id":"t5c","x":1318,"y":320,"w":6,"v":0.00027},{"id":"t5c","x":1338,"y":350,"w":46,"v":0.00027},{"id":"t5c","x":1365,"y":385,"w":48,"v":0.00027},{"id":"t5c","x":1410,"y":424,"w":34,"v":0.00027},{"id":"t5c","x":1475,"y":434,"w":28,"v":0.00027},
{"id":"t5c2","x":1328,"y":328,"w":5,"v":0.0003},{"id":"t5c2","x":1340,"y":352,"w":32,"v":0.0003},{"id":"t5c2","x":1368,"y":390,"w":32,"v":0.0003},{"id":"t5c2","x":1415,"y":426,"w":26,"v":0.0003},{"id":"t5c2","x":1470,"y":433,"w":22,"v":0.0003},
{"id":"t5d","x":1336,"y":338,"w":4,"v":0.00033},{"id":"t5d","x":1342,"y":355,"w":16,"v":0.00033},{"id":"t5d","x":1372,"y":395,"w":16,"v":0.00033},{"id":"t5d","x":1418,"y":428,"w":14,"v":0.00033},{"id":"t5d","x":1460,"y":432,"w":12,"v":0.00033},

{"id":"t1a","x":107,"y":917,"w":8,"v":0.00012},{"id":"t1a","x":130,"y":945,"w":13,"v":0.00012},{"id":"t1a","x":200,"y":1030,"w":13,"v":0.00012},
{"id":"t1b","x":133,"y":905,"w":4,"v":0.00022},{"id":"t1b","x":150,"y":935,"w":9,"v":0.00022},{"id":"t1b","x":209,"y":1022,"w":9,"v":0.00022},
{"id":"t1c","x":168,"y":920,"w":10,"v":0.00039},{"id":"t1c","x":178,"y":940,"w":50,"v":0.00039},{"id":"t1c","x":190,"y":985,"w":52,"v":0.00039},{"id":"t1c","x":220,"y":1022,"w":52,"v":0.00039},{"id":"t1c","x":265,"y":1045,"w":46,"v":0.00039},{"id":"t1c","x":345,"y":1052,"w":34,"v":0.00039},
{"id":"t1d","x":172,"y":918,"w":6,"v":0.00044},{"id":"t1d","x":178,"y":935,"w":36,"v":0.00044},{"id":"t1d","x":182,"y":965,"w":36,"v":0.00044},{"id":"t1d","x":198,"y":1005,"w":36,"v":0.00044},{"id":"t1d","x":255,"y":1035,"w":50,"v":0.00044},{"id":"t1d","x":300,"y":1048,"w":26,"v":0.00044},{"id":"t1d","x":350,"y":1048,"w":20,"v":0.00044},

{"id":"t2a","x":1201,"y":900,"w":8,"v":0.00012},{"id":"t2a","x":1225,"y":925,"w":14,"v":0.00012},{"id":"t2a","x":1307,"y":1004,"w":14,"v":0.00012},
{"id":"t2b","x":1228,"y":896,"w":4,"v":0.00021},{"id":"t2b","x":1242,"y":918,"w":9,"v":0.00021},{"id":"t2b","x":1316,"y":995,"w":9,"v":0.00021},
{"id":"t2c","x":1278,"y":912,"w":5,"v":0.00031},{"id":"t2c","x":1300,"y":955,"w":48,"v":0.00031},{"id":"t2c","x":1330,"y":1000,"w":54,"v":0.00031},{"id":"t2c","x":1375,"y":1030,"w":34,"v":0.00031},{"id":"t2c","x":1465,"y":1033,"w":28,"v":0.00031},
{"id":"t2c2","x":1284,"y":918,"w":5,"v":0.00034},{"id":"t2c2","x":1301,"y":958,"w":38,"v":0.00034},{"id":"t2c2","x":1330,"y":1000,"w":44,"v":0.00034},{"id":"t2c2","x":1375,"y":1028,"w":30,"v":0.00034},{"id":"t2c2","x":1450,"y":1032,"w":24,"v":0.00034},
{"id":"t2d","x":1288,"y":924,"w":5,"v":0.00038},{"id":"t2d","x":1302,"y":965,"w":28,"v":0.00038},{"id":"t2d","x":1330,"y":1000,"w":34,"v":0.00038},{"id":"t2d","x":1375,"y":1024,"w":24,"v":0.00038},{"id":"t2d","x":1440,"y":1031,"w":16,"v":0.00038},
{"id":"t2e","x":1292,"y":930,"w":5,"v":0.00044},{"id":"t2e","x":1298,"y":950,"w":14,"v":0.00044},{"id":"t2e","x":1310,"y":980,"w":14,"v":0.00044},{"id":"t2e","x":1335,"y":1005,"w":12,"v":0.00044},{"id":"t2e","x":1380,"y":1018,"w":8,"v":0.00044}
],
"bar":[
{"x":57,"x2":104,"y":1376,"y2":1500,"v":0.000012},{"x":104,"x2":150,"y":1376,"y2":1500,"v":0.000036},{"x":150,"x2":197,"y":1376,"y2":1500,"v":0.00006},{"x":197,"x2":244,"y":1376,"y2":1500,"v":0.000084},{"x":244,"x2":290,"y":1376,"y2":1500,"v":0.000108},{"x":290,"x2":337,"y":1376,"y2":1500,"v":0.000132},{"x":337,"x2":384,"y":1376,"y2":1500,"v":0.000156},{"x":384,"x2":431,"y":1376,"y2":1500,"v":0.00018},{"x":431,"x2":477,"y":1376,"y2":1500,"v":0.000203},{"x":477,"x2":524,"y":1376,"y2":1500,"v":0.000227},{"x":524,"x2":571,"y":1376,"y2":1500,"v":0.000251},{"x":571,"x2":617,"y":1376,"y2":1500,"v":0.000275},{"x":617,"x2":664,"y":1376,"y2":1500,"v":0.000299},{"x":664,"x2":711,"y":1376,"y2":1500,"v":0.000323},{"x":711,"x2":758,"y":1376,"y2":1500,"v":0.000347},{"x":758,"x2":804,"y":1376,"y2":1500,"v":0.000371},{"x":804,"x2":851,"y":1376,"y2":1500,"v":0.000395},{"x":851,"x2":898,"y":1376,"y2":1500,"v":0.000419},{"x":898,"x2":944,"y":1376,"y2":1500,"v":0.000443},{"x":944,"x2":991,"y":1376,"y2":1500,"v":0.000467},{"x":991,"x2":1038,"y":1376,"y2":1500,"v":0.000491},{"x":1038,"x2":1085,"y":1376,"y2":1500,"v":0.000515},{"x":1085,"x2":1131,"y":1376,"y2":1500,"v":0.000539},{"x":1131,"x2":1178,"y":1376,"y2":1500,"v":0.000563},{"x":1178,"x2":1225,"y":1376,"y2":1500,"v":0.000587},{"x":1225,"x2":1271,"y":1376,"y2":1500,"v":0.00061},{"x":1271,"x2":1318,"y":1376,"y2":1500,"v":0.000634},{"x":1318,"x2":1365,"y":1376,"y2":1500,"v":0.000658},{"x":1365,"x2":1411,"y":1376,"y2":1500,"v":0.000682},{"x":1411,"x2":1458,"y":1376,"y2":1500,"v":0.000706},{"x":1458,"x2":1505,"y":1376,"y2":1500,"v":0.00073},{"x":1505,"x2":1552,"y":1376,"y2":1500,"v":0.000754},{"x":1552,"x2":1598,"y":1376,"y2":1500,"v":0.000778},{"x":1598,"x2":1645,"y":1376,"y2":1500,"v":0.000802},{"x":1645,"x2":1692,"y":1376,"y2":1500,"v":0.000826},{"x":1692,"x2":1738,"y":1376,"y2":1500,"v":0.00085},{"x":1738,"x2":1785,"y":1376,"y2":1500,"v":0.000874},{"x":1785,"x2":1832,"y":1376,"y2":1500,"v":0.000898},{"x":1832,"x2":1878,"y":1376,"y2":1500,"v":0.000922},{"x":1878,"x2":1925,"y":1376,"y2":1500,"v":0.000946}
],
"ticks":[{"x":244,"y":1376,"y2":1500},{"x":431,"y":1376,"y2":1500},{"x":617,"y":1376,"y2":1500},{"x":804,"y":1376,"y2":1500},{"x":991,"y":1376,"y2":1500},{"x":1177,"y":1376,"y2":1500},{"x":1364,"y":1376,"y2":1500},{"x":1551,"y":1376,"y2":1500},{"x":1737,"y":1376,"y2":1500}],
"frame":[{"x":57,"x2":1925,"y":1376,"y2":1500}],
"titles":[{"x":522,"y":564,"t":"B0"},{"x":1629,"y":564,"t":"B5"},{"x":524,"y":1170,"t":"B10"},{"x":1629,"y":1170,"t":"B20"}],
"caption":[{"x":50,"y":1352,"t":"Case:AN_735.002:Emission:NO_Mass_Fraction[-]"}],
"labels":[{"x":52,"y":1573,"t":"0"},{"x":339,"y":1573,"t":"0.00019153"},{"x":709,"y":1573,"t":"0.00038307"},{"x":1094,"y":1573,"t":"0.0005746"},{"x":1461,"y":1573,"t":"0.00076614"},{"x":1831,"y":1573,"t":"0.00095767"},{"x":149,"y":1638,"t":"9.5767e-005"},{"x":539,"y":1638,"t":"0.0002873"},{"x":899,"y":1638,"t":"0.00047884"},{"x":1274,"y":1638,"t":"0.00067037"},{"x":1648,"y":1638,"t":"0.00086191"}]
},
"encoding":{
"x":{"field":"x","type":"quantitative","axis":null,"scale":{"domain":[0,2168],"nice":false,"zero":false}},
"y":{"field":"y","type":"quantitative","axis":null,"scale":{"domain":[1679,0],"nice":false,"zero":false}}
},
"resolve":{"scale":{"size":"independent"}},
"layer":[
{"data":{"name":"balls"},"mark":{"type":"point","shape":"circle","filled":true,"opacity":1,"strokeWidth":0},"encoding":{"size":{"field":"d","type":"quantitative","legend":null,"scale":{"type":"pow","exponent":2,"domain":[0,400],"range":[0,160000]}},"color":{"field":"v","type":"quantitative","legend":null,"scale":{"domain":[0,0.000239,0.00044,0.00061,0.00072,0.00096],"range":["#0000ff","#00ffff","#00ff00","#00ff00","#ffff00","#ff0000"]}}}},
{"data":{"name":"areas"},"mark":{"type":"area","opacity":1},"encoding":{"y2":{"field":"y2"},"detail":{"field":"id"},"color":{"field":"v","type":"quantitative","legend":null}}},
{"data":{"name":"trails"},"mark":{"type":"trail","opacity":1},"encoding":{"detail":{"field":"id"},"size":{"field":"w","type":"quantitative","legend":null,"scale":{"domain":[0,100],"range":[0,100]}},"color":{"field":"v","type":"quantitative","legend":null}}},
{"data":{"name":"bar"},"mark":{"type":"rect"},"encoding":{"x2":{"field":"x2"},"y2":{"field":"y2"},"color":{"field":"v","type":"quantitative","legend":null}}},
{"data":{"name":"ticks"},"mark":{"type":"rule","color":"#111111","strokeWidth":3},"encoding":{"y2":{"field":"y2"}}},
{"data":{"name":"frame"},"mark":{"type":"rect","fillOpacity":0,"stroke":"#aaaaaa","strokeWidth":7},"encoding":{"x2":{"field":"x2"},"y2":{"field":"y2"}}},
{"data":{"name":"frame"},"mark":{"type":"rect","fillOpacity":0,"stroke":"#000000","strokeWidth":4},"encoding":{"x2":{"field":"x2"},"y2":{"field":"y2"}}},
{"data":{"name":"titles"},"mark":{"type":"text","font":"Liberation Serif","fontSize":82,"align":"center","baseline":"alphabetic","color":"#000000"},"encoding":{"text":{"field":"t"}}},
{"data":{"name":"caption"},"mark":{"type":"text","font":"Liberation Sans","fontSize":52.5,"align":"left","baseline":"alphabetic","color":"#444444"},"encoding":{"text":{"field":"t"}}},
{"data":{"name":"labels"},"mark":{"type":"text","font":"Liberation Sans","fontSize":52,"align":"left","baseline":"alphabetic","color":"#444444"},"encoding":{"text":{"field":"t"}}}
]}
